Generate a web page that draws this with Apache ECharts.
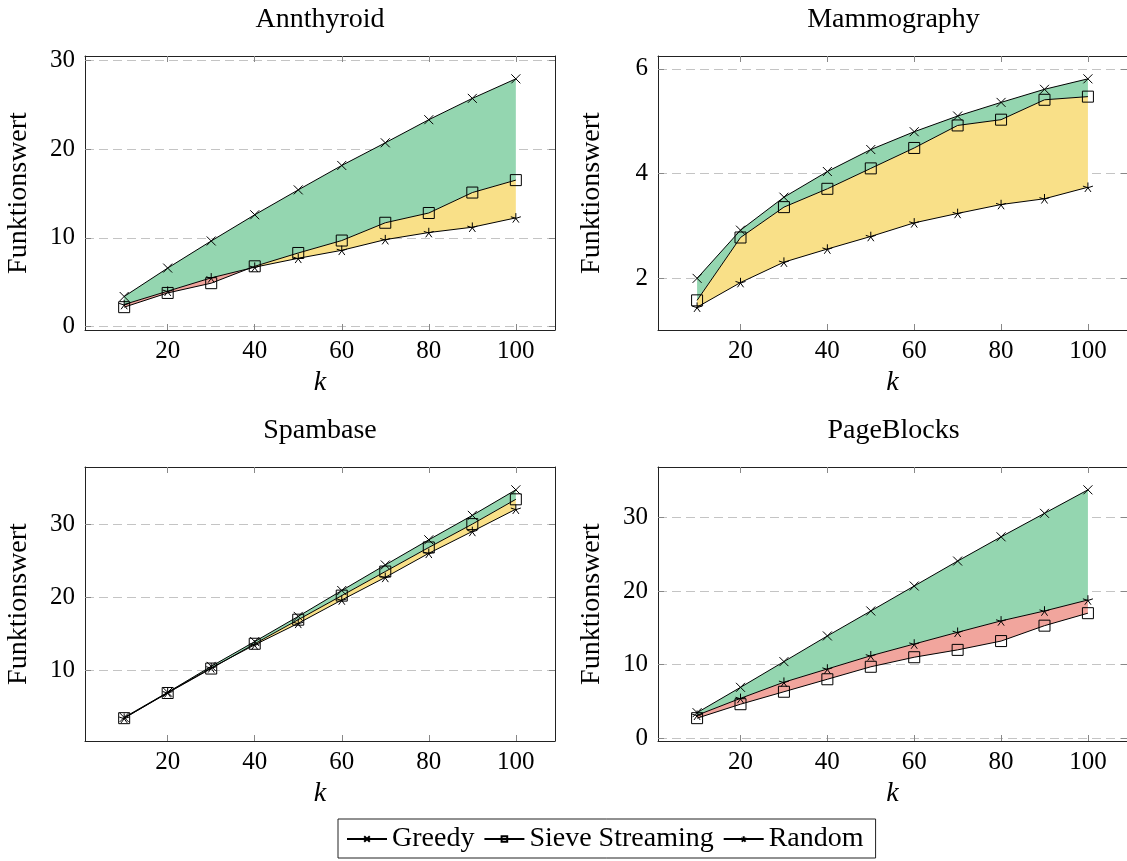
<!DOCTYPE html>
<html>
<head>
<meta charset="utf-8">
<script src="https://cdn.jsdelivr.net/npm/echarts@6/dist/echarts.min.js"></script>
<style>html,body{margin:0;padding:0;background:#fff}#c{width:1127px;height:861px}</style>
</head>
<body>
<div id="c"></div>
<script>
// ---- data ----
const ks = [10, 20, 30, 40, 50, 60, 70, 80, 90, 100];
const seriesNames = ['Greedy', 'Sieve Streaming', 'Random'];
const titles = ['Annthyroid', 'Mammography', 'Spambase', 'PageBlocks'];

const annGreedy = [3.4, 6.6, 9.65, 12.6, 15.4, 18.15, 20.7, 23.3, 25.7, 27.9];
const annSieve  = [2.2, 3.8, 4.9, 6.8, 8.3, 9.7, 11.7, 12.8, 15.1, 16.5];
const annRandom = [2.5, 4.0, 5.5, 6.7, 7.7, 8.6, 9.8, 10.6, 11.2, 12.25];

const mamGreedy = [2.0, 2.92, 3.55, 4.04, 4.46, 4.80, 5.10, 5.36, 5.61, 5.81];
const mamSieve  = [1.58, 2.78, 3.36, 3.71, 4.10, 4.49, 4.92, 5.03, 5.41, 5.47];
const mamRandom = [1.45, 1.92, 2.31, 2.56, 2.80, 3.06, 3.24, 3.41, 3.52, 3.74];

const spaGreedy = [3.5, 6.94, 10.5, 13.9, 17.35, 20.9, 24.4, 27.85, 31.2, 34.7];
const spaSieve  = [3.4, 6.85, 10.2, 13.6, 16.9, 20.2, 23.5, 26.8, 30.0, 33.4];
const spaRandom = [3.4, 6.9, 10.3, 13.45, 16.4, 19.6, 22.7, 26.0, 29.0, 32.05];

const pbGreedy = [3.45, 6.9, 10.4, 13.9, 17.3, 20.7, 24.1, 27.4, 30.6, 33.8];
const pbSieve  = [2.7, 4.6, 6.3, 8.0, 9.7, 11.0, 12.0, 13.2, 15.3, 17.0];
const pbRandom = [3.1, 5.4, 7.6, 9.4, 11.2, 12.8, 14.4, 15.95, 17.3, 18.8];

const xTicks = [20, 40, 60, 80, 100];
const yTicksAnn = [0, 10, 20, 30];
const yTicksMam = [2, 4, 6];
const yTicksSpa = [10, 20, 30];
const yTicksPb  = [0, 10, 20, 30];

// ---- styles ----
const FONT = "'Liberation Serif', 'DejaVu Serif', serif";
const FS = 25;      // tick labels
const FST = 28;     // titles, axis names, legend
const GREEN = 'rgb(148,214,176)';
const YELLOW = 'rgb(249,224,136)';
const RED = 'rgb(241,165,157)';

const panels = [
  {title: titles[0], g: annGreedy, s: annSieve, r: annRandom, yt: yTicksAnn, grid: {left: 85, top: 56, width: 470, height: 274}},
  {title: titles[1], g: mamGreedy, s: mamSieve, r: mamRandom, yt: yTicksMam, grid: {left: 658, top: 56, width: 471, height: 274}},
  {title: titles[2], g: spaGreedy, s: spaSieve, r: spaRandom, yt: yTicksSpa, grid: {left: 85, top: 467, width: 470, height: 274}},
  {title: titles[3], g: pbGreedy, s: pbSieve, r: pbRandom, yt: yTicksPb, grid: {left: 658, top: 467, width: 471, height: 274}}
];

const SYM_CROSS = 'path://M0,0L10,10M0,10L10,0';
const SYM_SQUARE = 'path://M0,0L10,0L10,10L0,10Z';
const SYM_STAR = 'path://M0,-10L0,0M9.51,-3.09L0,0M5.88,8.09L0,0M-5.88,8.09L0,0M-9.51,-3.09L0,0';
const symbols = [SYM_CROSS, SYM_SQUARE, SYM_STAR];
const symSizes = [9, 11, 10];

// region where a > b, split at crossings
function bandPolys(xs, a, b) {
  const polys = [];
  let top = [], bot = [];
  for (let i = 0; i < xs.length; i++) {
    const d = a[i] - b[i];
    if (i > 0) {
      const dp = a[i - 1] - b[i - 1];
      if ((dp > 0) !== (d > 0) && dp !== d) {
        const t = dp / (dp - d);
        const xc = xs[i - 1] + t * (xs[i] - xs[i - 1]);
        const yc = a[i - 1] + t * (a[i] - a[i - 1]);
        top.push([xc, yc]); bot.push([xc, yc]);
        if (dp > 0) { polys.push(top.concat(bot.slice().reverse())); top = []; bot = []; }
      }
    }
    if (d > 0) { top.push([xs[i], a[i]]); bot.push([xs[i], b[i]]); }
  }
  if (top.length > 1) polys.push(top.concat(bot.slice().reverse()));
  return polys;
}
function upperEnv(xs, a, b) {
  const pts = [];
  for (let i = 0; i < xs.length; i++) {
    if (i > 0) {
      const dp = a[i - 1] - b[i - 1], d = a[i] - b[i];
      if ((dp > 0) !== (d > 0) && dp !== d && d !== 0 && dp !== 0) {
        const t = dp / (dp - d);
        pts.push([xs[i - 1] + t * (xs[i] - xs[i - 1]), a[i - 1] + t * (a[i] - a[i - 1])]);
      }
    }
    pts.push([xs[i], Math.max(a[i], b[i])]);
  }
  return pts;
}
function limits(arrs) {
  let mn = Infinity, mx = -Infinity;
  arrs.forEach(a => a.forEach(v => { mn = Math.min(mn, v); mx = Math.max(mx, v); }));
  const r = mx - mn;
  return [mn - 0.1 * r, mx + 0.1 * r];
}

const option = {
  animation: false,
  backgroundColor: '#fff',
  textStyle: {fontFamily: FONT},
  title: [], grid: [], xAxis: [], yAxis: [], series: [],
  legend: {
    data: seriesNames,
    left: 338, top: 819,
    orient: 'horizontal',
    itemWidth: 40, itemHeight: 7, itemGap: 9,
    padding: [6, 12, 5, 8],
    borderColor: '#222', borderWidth: 1,
    textStyle: {fontFamily: FONT, fontSize: FST, color: '#000'}
  }
};

panels.forEach((p, i) => {
  const gl = p.grid;
  option.title.push({
    text: p.title, left: gl.left + gl.width / 2, top: gl.top - 50,
    textAlign: 'center', padding: 0,
    textStyle: {fontFamily: FONT, fontSize: FST, fontWeight: 'normal', color: '#000'}
  });
  option.grid.push(Object.assign({containLabel: false}, gl));
  const [ymin, ymax] = limits([p.g, p.s, p.r]);
  const tickStyle = {show: true, inside: true, length: 6, lineStyle: {color: '#888', width: 1}};
  const lineStyle = {show: true, onZero: false, lineStyle: {color: '#222', width: 1}};
  option.xAxis.push({
    gridIndex: i, type: 'value', min: 1, max: 109, position: 'bottom',
    axisLine: lineStyle,
    axisTick: Object.assign({customValues: xTicks}, tickStyle),
    axisLabel: {customValues: xTicks, margin: 9, fontFamily: FONT, fontSize: FS, color: '#000'},
    splitLine: {show: false},
    name: 'k', nameLocation: 'middle', nameGap: 39,
    nameTextStyle: {fontFamily: FONT, fontSize: FST, fontStyle: 'italic', color: '#000'}
  });
  option.xAxis.push({
    gridIndex: i, type: 'value', min: 1, max: 109, position: 'top',
    axisLine: lineStyle,
    axisTick: Object.assign({customValues: xTicks}, tickStyle),
    axisLabel: {show: false}, splitLine: {show: false}
  });
  option.yAxis.push({
    gridIndex: i, type: 'value', min: ymin, max: ymax, position: 'left',
    axisLine: lineStyle,
    axisTick: Object.assign({customValues: p.yt}, tickStyle),
    axisLabel: {customValues: p.yt, margin: 10, fontFamily: FONT, fontSize: FS, color: '#000'},
    splitLine: {show: true, lineStyle: {color: '#c4c4c4', width: 1, type: [9, 5]}},
    name: 'Funktionswert', nameLocation: 'middle', nameGap: 52, nameRotate: 90,
    nameTextStyle: {fontFamily: FONT, fontSize: FST, color: '#000'}
  });
  option.yAxis.push({
    gridIndex: i, type: 'value', min: ymin, max: ymax, position: 'right',
    axisLine: lineStyle,
    axisTick: Object.assign({customValues: p.yt}, tickStyle),
    axisLabel: {show: false}, splitLine: {show: false}
  });
  const xi = i * 2, yi = i * 2;
  const green = [p.g.map((v, j) => [ks[j], v]).concat(upperEnv(ks, p.s, p.r).reverse())];
  const fills = [
    {polys: green, color: GREEN},
    {polys: bandPolys(ks, p.s, p.r), color: YELLOW},
    {polys: bandPolys(ks, p.r, p.s), color: RED}
  ];
  fills.forEach(f => {
    option.series.push({
      type: 'custom', coordinateSystem: 'cartesian2d', xAxisIndex: xi, yAxisIndex: yi,
      silent: true, z: 1, clip: true,
      data: [[ks[0], p.g[0]]],
      renderItem: function (params, api) {
        return {
          type: 'group',
          children: f.polys.map(poly => ({
            type: 'polygon',
            shape: {points: poly.map(pt => api.coord(pt))},
            style: {fill: f.color, stroke: null}
          }))
        };
      }
    });
  });
  [p.g, p.s, p.r].forEach((arr, j) => {
    option.series.push({
      type: 'line', name: seriesNames[j], xAxisIndex: xi, yAxisIndex: yi, z: 3,
      data: arr.map((v, k) => [ks[k], v]),
      symbol: symbols[j], symbolSize: symSizes[j], symbolKeepAspect: true,
      showAllSymbol: true,
      lineStyle: {color: '#000', width: 1},
      itemStyle: {color: 'rgba(0,0,0,0)', borderColor: '#000', borderWidth: 1},
      emphasis: {disabled: true}
    });
  });
});

const chart = echarts.init(document.getElementById('c'), null, {renderer: 'canvas'});
chart.setOption(option);
</script>
</body>
</html>
